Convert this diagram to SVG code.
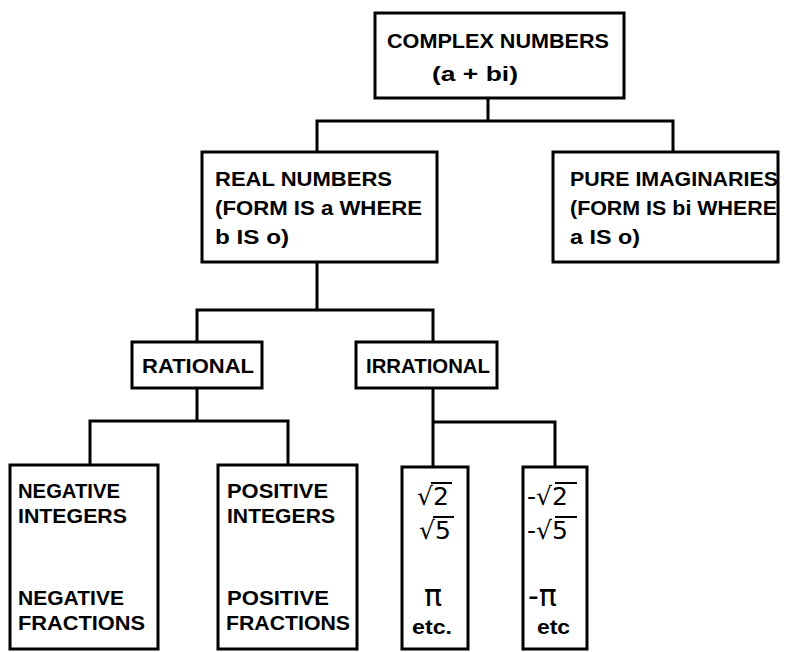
<svg xmlns="http://www.w3.org/2000/svg" width="791" height="652" viewBox="0 0 791 652">
<style>
.box{fill:#fff;stroke:#000;stroke-width:3}
.ln{fill:none;stroke:#000;stroke-width:3;stroke-linecap:square}
text{font-family:"Liberation Sans","DejaVu Sans",sans-serif;font-weight:bold;font-size:21px;fill:#000}
.m{font-family:"DejaVu Sans","Liberation Sans",sans-serif;font-weight:normal;font-size:25px}
.p{font-family:"DejaVu Sans","Liberation Sans",sans-serif;font-weight:normal;font-size:30px}
.v{fill:none;stroke:#000;stroke-width:2}
</style>
<rect width="791" height="652" fill="#fff"/>
<g id="connectors">
<path class="ln" d="M488 98V121M317 121H673M317 121V152M673 121V152"/>
<path class="ln" d="M317 262V310M197 310H433M197 310V342M433 310V342"/>
<path class="ln" d="M197 388V421M90 421H288M90 421V465M288 421V465"/>
<path class="ln" d="M433 388V422H555M433 422V467M555 422V467"/>
</g>
<g id="complex">
<rect class="box" x="375" y="13" width="249" height="85"/>
<text x="387" y="48" textLength="222" lengthAdjust="spacingAndGlyphs">COMPLEX NUMBERS</text>
<text x="432" y="81" textLength="86" lengthAdjust="spacingAndGlyphs">(a + bi)</text>
</g>
<g id="real">
<rect class="box" x="202" y="152" width="235" height="110"/>
<text x="215" y="186" textLength="177" lengthAdjust="spacingAndGlyphs">REAL NUMBERS</text>
<text x="215" y="215" textLength="207" lengthAdjust="spacingAndGlyphs">(FORM IS a WHERE</text>
<text x="215" y="244" textLength="74" lengthAdjust="spacingAndGlyphs">b IS o)</text>
</g>
<g id="imaginary">
<rect class="box" x="553" y="152" width="225" height="110"/>
<text x="570" y="186" textLength="208" lengthAdjust="spacingAndGlyphs">PURE IMAGINARIES</text>
<text x="570" y="215" textLength="207" lengthAdjust="spacingAndGlyphs">(FORM IS bi WHERE</text>
<text x="570" y="244" textLength="70" lengthAdjust="spacingAndGlyphs">a IS o)</text>
</g>
<g id="rational">
<rect class="box" x="132" y="342" width="130" height="46"/>
<text x="142" y="373" textLength="112" lengthAdjust="spacingAndGlyphs">RATIONAL</text>
</g>
<g id="irrational">
<rect class="box" x="356" y="342" width="141" height="46"/>
<text x="366" y="373" textLength="124" lengthAdjust="spacingAndGlyphs">IRRATIONAL</text>
</g>
<g id="negative">
<rect class="box" x="10" y="465" width="148" height="184"/>
<text x="18" y="498" textLength="102" lengthAdjust="spacingAndGlyphs">NEGATIVE</text>
<text x="18" y="523" textLength="109" lengthAdjust="spacingAndGlyphs">INTEGERS</text>
<text x="18" y="605" textLength="106" lengthAdjust="spacingAndGlyphs">NEGATIVE</text>
<text x="18" y="630" textLength="127" lengthAdjust="spacingAndGlyphs">FRACTIONS</text>
</g>
<g id="positive">
<rect class="box" x="218" y="465" width="139" height="184"/>
<text x="227" y="498" textLength="101" lengthAdjust="spacingAndGlyphs">POSITIVE</text>
<text x="227" y="523" textLength="108" lengthAdjust="spacingAndGlyphs">INTEGERS</text>
<text x="227" y="605" textLength="102" lengthAdjust="spacingAndGlyphs">POSITIVE</text>
<text x="226" y="630" textLength="124" lengthAdjust="spacingAndGlyphs">FRACTIONS</text>
</g>
<g id="irrational-positive">
<rect class="box" x="402" y="467" width="66" height="182"/>
<text class="m" x="417" y="505">√2</text>
<line class="v" x1="431" y1="483" x2="452" y2="483"/>
<text class="m" x="419" y="539">√5</text>
<line class="v" x1="433" y1="517" x2="454" y2="517"/>
<text class="p" x="424" y="606">π</text>
<text x="412" y="634" textLength="40" lengthAdjust="spacingAndGlyphs">etc.</text>
</g>
<g id="irrational-negative">
<rect class="box" x="523" y="467" width="64" height="182"/>
<text class="m" x="527" y="505">-√2</text>
<line class="v" x1="555" y1="483" x2="577" y2="483"/>
<text class="m" x="527" y="539">-√5</text>
<line class="v" x1="555" y1="517" x2="577" y2="517"/>
<text class="p" x="528" y="606">-π</text>
<text x="537" y="634" textLength="33" lengthAdjust="spacingAndGlyphs">etc</text>
</g>
</svg>
